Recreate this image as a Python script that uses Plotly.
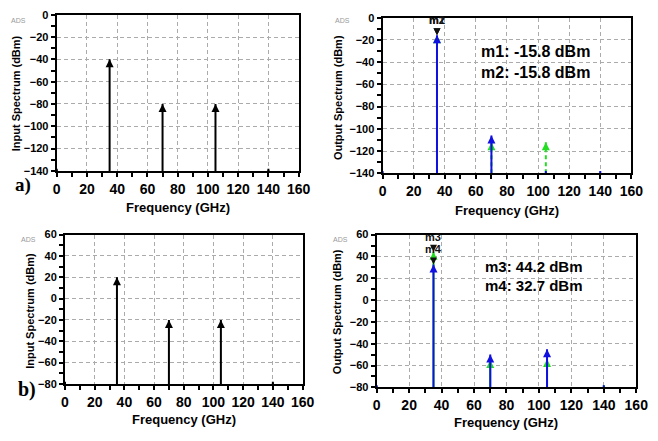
import plotly.graph_objects as go

W, H = 658, 441

# Spectral lines (GHz): DC, fundamental and harmonics
freq_ghz = [0, 35, 70, 105, 140]

# a) small-signal drive
in_a = [-138, -40, -80, -80, -138]
out_a_blue = [-138, -15.8, -106, -138, -138]
out_a_green = [None, -15.8, -112, -112, None]

# b) large-signal drive
in_b = [-78, 20, -20, -20, -78]
out_b_blue = [-78, 32.7, -50, -45, -78]
out_b_green = [None, 44.2, -55, -54, -78]

# Marker readouts
markers_a = [("m1", 35, -15.8), ("m2", 35, -15.8)]
markers_b = [("m3", 35, 44.2), ("m4", 35, 32.7)]
readout_a = ["m1: -15.8 dBm", "m2: -15.8 dBm"]
readout_b = ["m3: 44.2 dBm", "m4: 32.7 dBm"]

y_ranges = {"a": [-140, 0], "b": [-80, 60]}
x_ticks = [0, 20, 40, 60, 80, 100, 120, 140, 160]


def px(x):
    return x / W


def py(y):
    return 1 - y / H


fig = go.Figure()


def stem_traces(xs, ys, floor, color, axis_id, dash="solid", width=2, size=8):
    lx, ly, mx, my = [], [], [], []
    for f, v in zip(xs, ys):
        if v is None:
            continue
        lx += [f, f, None]
        ly += [floor, v, None]
        mx.append(f)
        my.append(v)
    xa = "x" if axis_id == 1 else f"x{axis_id}"
    ya = "y" if axis_id == 1 else f"y{axis_id}"
    fig.add_trace(go.Scatter(x=lx, y=ly, mode="lines", xaxis=xa, yaxis=ya,
                             line=dict(color=color, width=width, dash=dash),
                             showlegend=False, hoverinfo="skip"))
    fig.add_trace(go.Scatter(x=mx, y=my, mode="markers", xaxis=xa, yaxis=ya,
                             marker=dict(symbol="arrow-up", size=size, color=color),
                             showlegend=False))


def marker_traces(items, axis_id):
    xa = f"x{axis_id}"
    ya = f"y{axis_id}"
    fig.add_trace(go.Scatter(x=[m[1] for m in items], y=[m[2] for m in items],
                             mode="markers", xaxis=xa, yaxis=ya,
                             marker=dict(symbol="arrow-down", size=7, color="#111111"),
                             showlegend=False))
    for name, fx, fy in items:
        fig.add_annotation(x=fx, y=fy, xref=xa, yref=ya, text=name, showarrow=False,
                           yshift=15, font=dict(family="Liberation Sans", size=11,
                                                color="#111111", weight="bold"))


# Panel 1: input spectrum a)
stem_traces(freq_ghz, in_a, y_ranges["a"][0], "black", 1)
# Panel 2: output spectrum a)
stem_traces(freq_ghz, out_a_green, y_ranges["a"][0], "#22dd22", 2, dash="4px,3px")
stem_traces(freq_ghz, out_a_blue, y_ranges["a"][0], "#1010e0", 2)
marker_traces(markers_a, 2)
# Panel 3: input spectrum b)
stem_traces(freq_ghz, in_b, y_ranges["b"][0], "black", 3)
# Panel 4: output spectrum b)
stem_traces(freq_ghz, out_b_green, y_ranges["b"][0], "#22dd22", 4)
stem_traces(freq_ghz, out_b_blue, y_ranges["b"][0], "#1010e0", 4)
marker_traces(markers_b, 4)

panels = {
    1: dict(x=[px(54), px(302)], y=[py(169.5), py(9)], r="a"),
    2: dict(x=[px(388), px(643)], y=[py(172), py(12)], r="a"),
    3: dict(x=[px(62.5), px(306)], y=[py(388.5), py(235)], r="b"),
    4: dict(x=[px(382), px(648)], y=[py(392), py(235)], r="b"),
}

axis_common = dict(
    showline=True, linecolor="black", linewidth=2, mirror=True,
    ticks="outside", ticklen=4, tickwidth=2, tickcolor="black",
    showgrid=True, gridcolor="#ababab", gridwidth=1, griddash="4px,3px",
    zeroline=False, fixedrange=True,
)

layout_axes = {}
for i, p in panels.items():
    sx = "" if i == 1 else str(i)
    layout_axes[f"xaxis{sx}"] = dict(
        axis_common, domain=p["x"], range=[0, 160], tickvals=x_ticks,
        anchor=f"y{sx}",
        tickfont=dict(family="Liberation Sans", size=14, color="black", weight="bold"),
        minor=dict(dtick=10, tick0=0, ticks="outside", ticklen=4, tickwidth=2,
                   tickcolor="black", showgrid=False),
    )
    lo, hi = y_ranges[p["r"]]
    layout_axes[f"yaxis{sx}"] = dict(
        axis_common, domain=p["y"], range=[lo, hi], dtick=20, tick0=lo,
        anchor=f"x{sx}",
        tickfont=dict(family="Liberation Sans", size=11, color="black", weight="bold"),
        minor=dict(dtick=10, tick0=lo, ticks="outside", ticklen=4, tickwidth=2,
                   tickcolor="black", showgrid=False),
    )

fig.update_layout(
    width=W, height=H, margin=dict(l=0, r=0, t=0, b=0),
    paper_bgcolor="white", plot_bgcolor="white", showlegend=False,
    **layout_axes,
)


def note(text, x, y, size, angle=0, family="Liberation Sans", weight="bold",
         color="black", xanchor="center"):
    fig.add_annotation(x=px(x), y=py(y), xref="paper", yref="paper", text=text,
                       showarrow=False, textangle=angle, xanchor=xanchor,
                       yanchor="middle",
                       font=dict(family=family, size=size, color=color, weight=weight))


# Small "ADS" tags
for x, y in [(15, 15), (347, 15), (25, 240), (345, 240)]:
    note("ADS", x, y, 7, weight="normal", color="#9a9a9a")

# Axis titles
note("Input Spectrum (dBm)", 12, 90, 11, angle=-90)
note("Output Spectrum (dBm)", 343, 94, 11, angle=-90)
note("Input Spectrum (dBm)", 27, 313, 11, angle=-90)
note("Output Spectrum (dBm)", 342, 314, 11, angle=-90)
note("Frequency (GHz)", 178, 207, 13)
note("Frequency (GHz)", 516, 210, 13)
note("Frequency (GHz)", 184, 425, 13)
note("Frequency (GHz)", 514, 428, 13)

# Panel row labels
note("a)", 19, 184, 19, family="Liberation Serif")
note("b)", 24, 394, 20, family="Liberation Serif")

# Marker readouts
note(readout_a[0], 487, 47, 16, xanchor="left")
note(readout_a[1], 487, 68, 16, xanchor="left")
note(readout_b[0], 491, 268, 15, xanchor="left")
note(readout_b[1], 491, 287, 15, xanchor="left")

fig.write_html("out.html")
